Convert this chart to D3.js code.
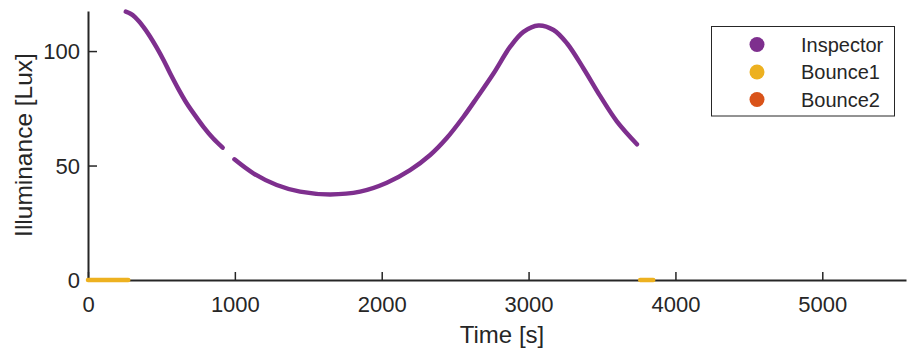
<!DOCTYPE html>
<html>
<head>
<meta charset="utf-8">
<script src="https://cdn.jsdelivr.net/npm/d3@7"></script>
<style>
  html, body { margin: 0; padding: 0; background: #fff; }
  svg { display: block; }
  text { font-family: "Liberation Sans", Arial, Helvetica, sans-serif; fill: #262626; }
</style>
</head>
<body>
<svg id="chart" width="908" height="356"></svg>
<script>
// ---- data ----
const seriesNames = ["Inspector", "Bounce1", "Bounce2"];
const seriesColors = ["#7E2F8E", "#EDB120", "#D95319"];

// Inspector: two segments (gap near t≈950 s)
const inspectorSeg1T = [257, 290, 320, 377, 420, 468, 515, 559, 615, 672, 730, 786, 850, 917];
const inspectorSeg1V = [117.2, 116.3, 114.8, 110.6, 106.6, 101.5, 96.0, 90.3, 83.5, 77.2, 71.8, 66.9, 62.0, 57.8];
const inspectorSeg2T = [997, 1126, 1285, 1444, 1649, 1853, 2035, 2193, 2330, 2443, 2557, 2648, 2761, 2875, 2965, 3067, 3170, 3261, 3374, 3488, 3601, 3738];
const inspectorSeg2V = [52.7, 46.6, 41.5, 38.6, 37.4, 38.6, 42.5, 48.0, 54.6, 62.0, 71.3, 79.6, 90.2, 101.9, 108.4, 111.2, 109.2, 103.4, 92.4, 80.3, 69.3, 59.3];

// Bounce1: two short segments lying at 0 lux
const bounce1Seg1T = [0, 274];
const bounce1Seg1V = [0, 0];
const bounce1Seg2T = [3760, 3849];
const bounce1Seg2V = [0, 0];

// Bounce2: no visible data
const bounce2T = [];
const bounce2V = [];

const xTicks = [0, 1000, 2000, 3000, 4000, 5000];
const yTicks = [0, 50, 100];
const xDomain = [0, 5570];
const yDomain = [0, 117.5];
const xLabel = "Time [s]";
const yLabel = "Illuminance [Lux]";

// ---- layout ----
const svg = d3.select("#chart");
const mLeft = 88, mRight = 906, mTop = 11, mBottom = 280;
const x = d3.scaleLinear().domain(xDomain).range([mLeft, mRight]);
const y = d3.scaleLinear().domain(yDomain).range([mBottom, mTop]);
const axisColor = "#262626";

const zip = (ts, vs) => ts.map((t, i) => ({ t, v: vs[i] }));
const line = d3.line().x(d => x(d.t)).y(d => y(d.v)).curve(d3.curveCatmullRom.alpha(0.5));

// axes
const gx = svg.append("g").attr("transform", `translate(0,${mBottom})`)
  .call(d3.axisBottom(x).tickValues(xTicks).tickFormat(d3.format("d")).tickSizeInner(-8).tickSizeOuter(0).tickPadding(16));
const gy = svg.append("g").attr("transform", `translate(${mLeft},0)`)
  .call(d3.axisLeft(y).tickValues(yTicks).tickFormat(d3.format("d")).tickSizeInner(-9).tickSizeOuter(0).tickPadding(8));
[gx, gy].forEach(g => {
  g.select(".domain").attr("stroke", axisColor).attr("stroke-width", 2);
  g.selectAll(".tick line").attr("stroke", axisColor).attr("stroke-width", 1.5);
  g.selectAll(".tick text").attr("fill", axisColor).style("font-size", "22px")
    .style("font-family", '"Liberation Sans", Arial, sans-serif');
});
gy.selectAll(".tick text").attr("dy", "0.35em");

// axis labels
svg.append("text").attr("x", 502).attr("y", 343)
  .attr("text-anchor", "middle").style("font-size", "24px").text(xLabel);
svg.append("text").attr("transform", `translate(32,145) rotate(-90)`)
  .attr("text-anchor", "middle").style("font-size", "24.5px").text(yLabel);

// series
const plotLine = (data, color) => {
  if (data.length < 2) return;
  svg.append("path").datum(data).attr("d", line)
    .attr("fill", "none").attr("stroke", color).attr("stroke-width", 4.5)
    .attr("stroke-linecap", "round").attr("stroke-linejoin", "round");
};
plotLine(zip(inspectorSeg1T, inspectorSeg1V), seriesColors[0]);
plotLine(zip(inspectorSeg2T, inspectorSeg2V), seriesColors[0]);
plotLine(zip(bounce1Seg1T, bounce1Seg1V), seriesColors[1]);
plotLine(zip(bounce1Seg2T, bounce1Seg2V), seriesColors[1]);
plotLine(zip(bounce2T, bounce2V), seriesColors[2]);

// legend
const lg = svg.append("g");
lg.append("rect").attr("x", 711.5).attr("y", 26.5).attr("width", 183).attr("height", 89.5)
  .attr("fill", "#fff").attr("stroke", axisColor).attr("stroke-width", 1);
seriesNames.forEach((name, i) => {
  const cy = 44.5 + i * 27.5;
  lg.append("circle").attr("cx", 757).attr("cy", cy).attr("r", 7.5).attr("fill", seriesColors[i]);
  lg.append("text").attr("x", 801).attr("y", cy).attr("dy", "0.35em")
    .style("font-size", "20px").attr("fill", "#000").text(name);
});
</script>
</body>
</html>
